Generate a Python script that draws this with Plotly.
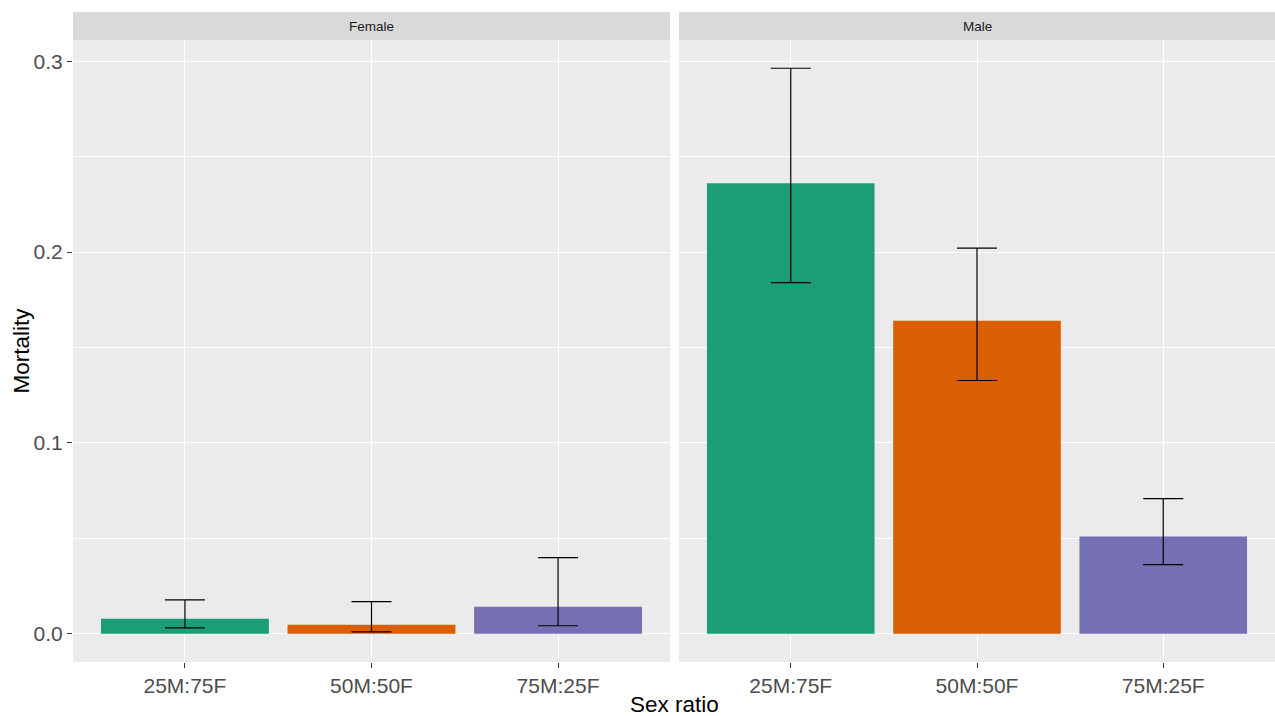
import plotly.graph_objects as go

categories = ["25M:75F", "50M:50F", "75M:25F"]
colors = ["#1B9E77", "#D95F02", "#7570B3"]

female_mean = [0.0079, 0.0047, 0.0142]
female_upper = [0.0178, 0.0168, 0.0399]
female_lower = [0.0031, 0.0010, 0.0042]

male_mean = [0.2360, 0.1640, 0.0509]
male_upper = [0.2963, 0.2020, 0.0708]
male_lower = [0.1840, 0.1327, 0.0362]

panels = ["Female", "Male"]

FONT = "Liberation Sans, Arial, sans-serif"

fig = go.Figure()

data = [(female_mean, female_upper, female_lower), (male_mean, male_upper, male_lower)]
for i, (m, up, lo) in enumerate(data):
    xa = "x" if i == 0 else "x2"
    ya = "y" if i == 0 else "y2"
    fig.add_trace(go.Bar(
        x=categories, y=m,
        marker=dict(color=colors, line=dict(width=0)),
        error_y=dict(type="data", symmetric=False,
                     array=[u - v for u, v in zip(up, m)],
                     arrayminus=[v - l for v, l in zip(m, lo)],
                     color="black", thickness=1.2, width=20),
        xaxis=xa, yaxis=ya, showlegend=False, width=0.9,
    ))

ydom = [54 / 716, 676 / 716]
strip_top = 704 / 716
xdoms = [[73 / 1275, 670 / 1275], [679 / 1275, 1.0]]

axis_common_y = dict(
    range=[-0.0148, 0.3111], dtick=0.1, tickformat=".1f",
    showgrid=True, gridcolor="white", gridwidth=1.1,
    minor=dict(dtick=0.05, showgrid=True, gridcolor="white", gridwidth=0.5),
    zeroline=False, showline=False, domain=ydom,
    tickfont=dict(family=FONT, size=21, color="#4D4D4D"),
)
axis_common_x = dict(
    type="category", range=[-0.6, 2.6], showgrid=True, gridcolor="white", gridwidth=1.1,
    zeroline=False, showline=False, ticks="outside", ticklen=5, tickcolor="#333333",
    tickfont=dict(family=FONT, size=21, color="#4D4D4D"),
)

fig.update_layout(
    width=1275, height=716,
    margin=dict(l=0, r=0, t=0, b=0),
    paper_bgcolor="white", plot_bgcolor="#EBEBEB",
    xaxis=dict(domain=xdoms[0], anchor="y", **axis_common_x),
    xaxis2=dict(domain=xdoms[1], anchor="y2", **axis_common_x),
    yaxis=dict(anchor="x", ticks="outside", ticklen=5, tickcolor="#333333", **axis_common_y),
    yaxis2=dict(anchor="x2", showticklabels=False, ticks="", **axis_common_y),
    bargap=0.1,
)

# strip backgrounds and labels
for i, name in enumerate(panels):
    fig.add_shape(type="rect", xref="paper", yref="paper",
                  x0=xdoms[i][0], x1=xdoms[i][1], y0=ydom[1], y1=strip_top,
                  fillcolor="#D9D9D9", line=dict(width=0), layer="below")
    fig.add_annotation(text=name, xref="paper", yref="paper",
                       x=(xdoms[i][0] + xdoms[i][1]) / 2, y=(ydom[1] + strip_top) / 2,
                       showarrow=False, font=dict(family=FONT, size=13.5, color="#1A1A1A"),
                       xanchor="center", yanchor="middle")

fig.add_annotation(text="Sex ratio", xref="paper", yref="paper", x=(73 + 1275) / 2 / 1275, y=0,
                   yanchor="bottom", xanchor="center", showarrow=False, yshift=-3,
                   font=dict(family=FONT, size=22.5, color="black"))
fig.add_annotation(text="Mortality", xref="paper", yref="paper", x=0, y=sum(ydom) / 2,
                   xanchor="left", yanchor="middle", textangle=-90, showarrow=False, xshift=6,
                   font=dict(family=FONT, size=22.5, color="black"))

fig.write_html("out.html", config={"displayModeBar": False},
               post_script="document.body.style.margin='0';document.body.style.overflow='hidden';")
